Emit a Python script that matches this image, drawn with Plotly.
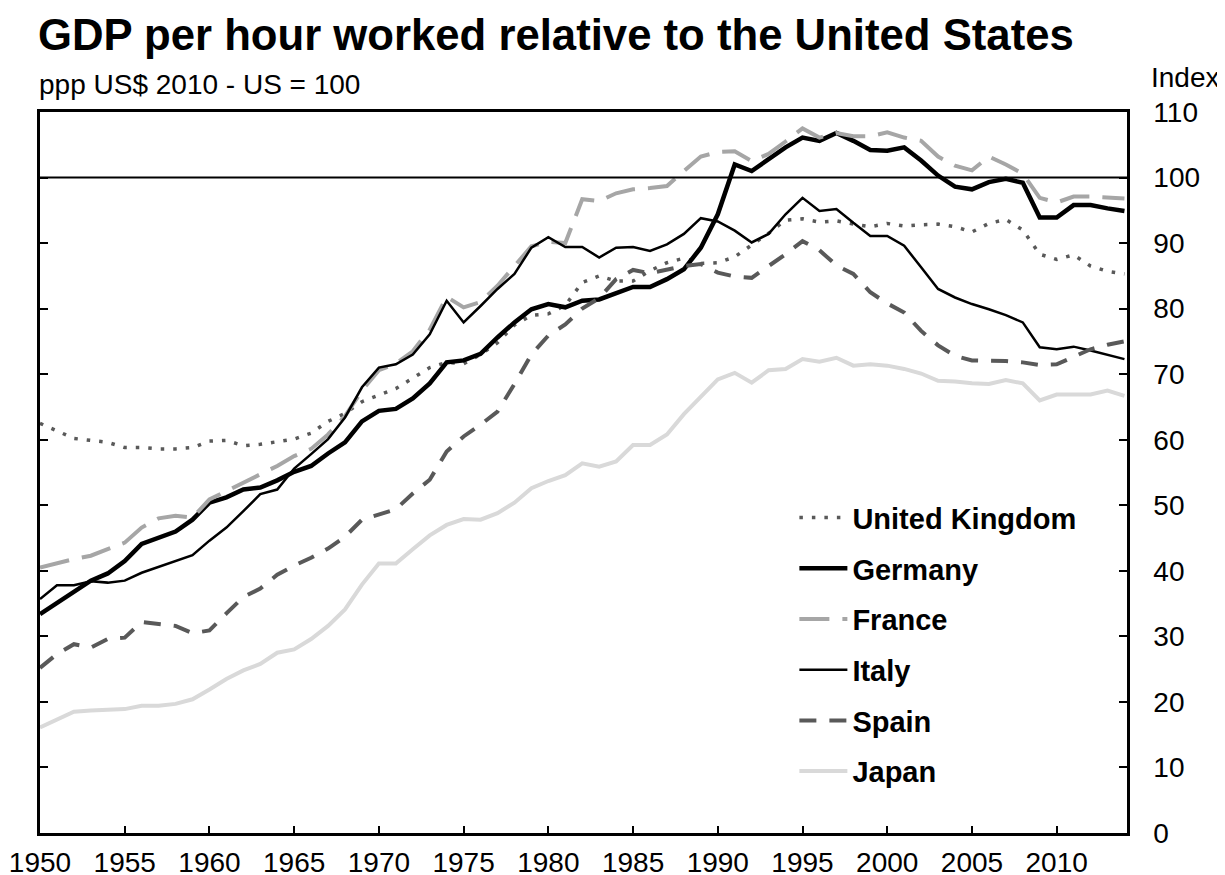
import plotly.graph_objects as go

years = list(range(1950, 2015))

uk = [62.5, 61.3, 60.2, 59.9, 59.6, 58.8, 58.8, 58.6, 58.6, 58.8,
      59.8, 59.9, 59.1, 59.3, 59.7, 60.1, 61.0, 62.8, 64.0, 65.8,
      66.8, 67.8, 69.4, 71.0, 71.8, 71.6, 73.0, 74.8, 77.5, 79.0,
      79.2, 80.5, 84.0, 85.0, 84.2, 84.2, 85.8, 87.0, 87.7, 86.9,
      87.0, 87.9, 89.7, 91.5, 93.5, 93.7, 93.2, 93.4, 92.9, 92.5,
      93.0, 92.6, 92.8, 92.9, 92.5, 91.7, 93.0, 93.6, 92.0, 88.3,
      87.5, 88.2, 86.5, 85.7, 85.3]

germany = [33.4, 35.1, 37.0, 38.5, 39.6, 41.5, 44.1, 45.1, 46.0, 47.8,
           50.4, 51.2, 52.4, 52.7, 53.8, 55.1, 56.0, 57.9, 59.6, 62.8,
           64.4, 64.7, 66.3, 68.6, 71.8, 72.1, 73.1, 75.6, 77.9, 79.9,
           80.7, 80.2, 81.2, 81.4, 82.3, 83.3, 83.3, 84.5, 86.0, 89.3,
           94.4, 102.0, 101.0, 102.8, 104.6, 106.1, 105.6, 106.8, 105.6, 104.2,
           104.1, 104.6, 102.6, 100.3, 98.6, 98.2, 99.3, 99.8, 99.2, 93.9,
           93.9, 95.8, 95.8, 95.3, 94.9]

france = [40.5, 41.2, 41.8, 42.3, 43.3, 44.3, 46.6, 48.0, 48.4, 48.1,
          50.9, 52.2, 53.5, 54.7, 56.0, 57.5, 58.6, 60.8, 63.6, 67.5,
          70.6, 71.6, 73.5, 76.8, 81.8, 80.2, 81.0, 83.5, 86.5, 89.5,
          90.2, 90.0, 96.7, 96.4, 97.6, 98.2, 98.4, 98.7, 101.0, 103.2,
          103.9, 104.0, 102.5, 103.6, 105.5, 107.5, 106.1, 106.8, 106.3, 106.3,
          106.9, 106.1, 105.6, 103.2, 101.8, 101.1, 103.2, 102.0, 100.6, 96.9,
          96.2, 97.1, 97.1, 97.0, 96.8]

italy = [35.7, 37.8, 37.8, 38.4, 38.2, 38.5, 39.7, 40.6, 41.5, 42.4,
         44.6, 46.6, 49.1, 51.7, 52.4, 55.6, 57.8, 60.1, 63.4, 68.0,
         71.0, 71.5, 73.0, 76.1, 81.2, 77.9, 80.4, 83.0, 85.3, 89.3,
         90.9, 89.4, 89.4, 87.8, 89.3, 89.4, 88.8, 89.8, 91.4, 93.8,
         93.3, 91.9, 90.1, 91.4, 94.4, 96.9, 94.9, 95.2, 93.1, 91.1,
         91.1, 89.6, 86.3, 83.0, 81.7, 80.7, 79.9, 79.0, 77.9, 74.1,
         73.8, 74.2, 73.6, 73.0, 72.3]

spain = [25.2, 27.3, 28.8, 28.3, 29.6, 29.8, 32.2, 31.9, 31.6, 30.5,
         30.9, 33.5, 36.0, 37.3, 39.4, 40.8, 42.0, 43.4, 45.2, 47.8,
         48.6, 49.4, 51.8, 53.9, 58.2, 60.5, 62.3, 64.3, 68.5, 73.0,
         75.9, 77.6, 80.0, 81.6, 84.5, 85.9, 85.4, 85.9, 86.5, 86.8,
         85.5, 84.9, 84.7, 86.5, 88.3, 90.3, 88.9, 86.6, 85.3, 82.5,
         80.8, 79.4, 76.6, 74.4, 72.8, 72.1, 72.1, 72.0, 71.8, 71.4,
         71.5, 72.6, 73.8, 74.5, 75.0]

japan = [16.1, 17.3, 18.5, 18.7, 18.8, 18.9, 19.4, 19.4, 19.7, 20.4,
         21.9, 23.5, 24.8, 25.8, 27.5, 28.0, 29.6, 31.6, 34.1, 37.9,
         41.1, 41.1, 43.3, 45.4, 47.0, 47.9, 47.8, 48.8, 50.4, 52.6,
         53.7, 54.6, 56.4, 55.9, 56.7, 59.2, 59.2, 60.8, 63.9, 66.5,
         69.2, 70.2, 68.7, 70.6, 70.8, 72.3, 71.9, 72.5, 71.3, 71.5,
         71.3, 70.8, 70.1, 69.0, 68.9, 68.6, 68.5, 69.1, 68.6, 66.0,
         66.9, 66.9, 66.9, 67.5, 66.7]

series_names = ["United Kingdom", "Germany", "France", "Italy", "Spain", "Japan"]
series_values = [uk, germany, france, italy, spain, japan]
series_styles = [
    dict(color="#595959", width=3.5, dash="3.5px,9px"),
    dict(color="#000000", width=4.5, dash="solid"),
    dict(color="#A6A6A6", width=4, dash="30px,13px"),
    dict(color="#000000", width=2.5, dash="solid"),
    dict(color="#595959", width=4, dash="17px,13px"),
    dict(color="#D9D9D9", width=4, dash="solid"),
]

x_ticks = list(range(1950, 2015, 5))
y_ticks = list(range(0, 111, 10))
reference_level = 100

FONT = "Liberation Sans, Arial, sans-serif"

# plot area (figure pixels)
L, R, T, B = 32, 1119, 103.5, 825
PH = B - T
PW = R - L

fig = go.Figure()
for name, vals, st in zip(series_names, series_values, series_styles):
    fig.add_trace(go.Scatter(
        x=years, y=vals, name=name, mode="lines",
        line=st, legendgroup=name,
    ))

fig.add_shape(type="line", xref="paper", x0=0, x1=1, yref="y",
              y0=reference_level, y1=reference_level,
              line=dict(color="black", width=2))

fig.update_layout(
    width=1225, height=875,
    paper_bgcolor="white", plot_bgcolor="white",
    margin=dict(l=L, r=1225 - R, t=T, b=875 - B, autoexpand=False),
    font=dict(family=FONT, size=28, color="black"),
    title=dict(text="<b>GDP per hour worked relative to the United States</b>",
               font=dict(size=43.7, family=FONT, color="black"),
               x=30/1225, xref="container", xanchor="left",
               y=1-27/875, yref="container", yanchor="middle"),
    showlegend=True,
    legend=dict(x=0.694, y=0.4726, xanchor="left", yanchor="top",
                bgcolor="rgba(0,0,0,0)", tracegroupgap=10,
                itemwidth=48,
                font=dict(size=29, family=FONT, color="black", weight="bold")),
    annotations=[
        dict(text="ppp US$ 2010 - US = 100", xref="paper", yref="paper",
             x=0, xshift=-3, y=1+(T-76)/PH, xanchor="left", yanchor="middle",
             showarrow=False, font=dict(size=28, family=FONT)),
        dict(text="Index", xref="paper", yref="paper",
             x=(1141-L)/PW, y=1+(T-69)/PH, xanchor="left", yanchor="middle",
             showarrow=False, font=dict(size=28, family=FONT)),
    ],
)

fig.update_xaxes(range=[1950, 2014.15], tickvals=x_ticks, ticktext=[str(t) for t in x_ticks],
                 ticks="inside", ticklen=7, tickwidth=2, tickcolor="black",
                 showline=True, linecolor="black", linewidth=2.5, mirror=True,
                 showgrid=False, zeroline=False, ticklabelstandoff=3, automargin=False,
                 tickfont=dict(size=28, family=FONT))
fig.update_yaxes(range=[0, 110], tickvals=y_ticks, side="right",
                 ticks="inside", ticklen=8, tickwidth=2, tickcolor="black",
                 showline=True, linecolor="black", linewidth=2.5, mirror="ticks",
                 showgrid=False, zeroline=False, ticklabelstandoff=18, automargin=False,
                 tickfont=dict(size=28, family=FONT))

fig.write_html("out.html")
